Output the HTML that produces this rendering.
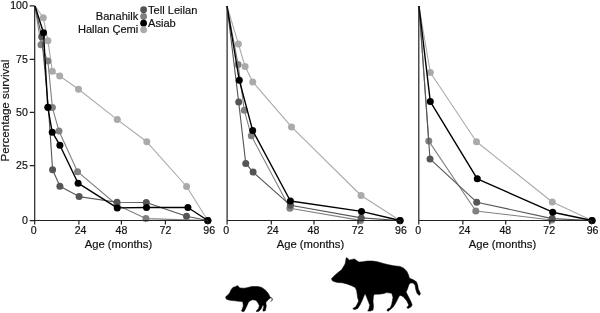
<!DOCTYPE html><html><head><meta charset="utf-8"><style>html,body{margin:0;padding:0;background:#fff;}svg{display:block;filter:grayscale(1);}text{font-family:"Liberation Sans", sans-serif;stroke:#111;stroke-width:0.18px;}</style></head><body>
<svg width="600" height="313" viewBox="0 0 600 313">
<rect width="600" height="313" fill="#fff"/>
<path d="M35.00 6.00 L43.30 17.80 L47.90 40.70 L52.30 71.20 L59.70 76.00 L78.50 89.30 L117.30 119.60 L146.80 141.80 L186.60 186.50 L207.80 220.50" stroke="#aaaaaa" stroke-width="1.1" fill="none" stroke-linejoin="round"/>
<g fill="#aaaaaa"><circle cx="43.30" cy="17.80" r="3.5"/><circle cx="47.90" cy="40.70" r="3.5"/><circle cx="52.30" cy="71.20" r="3.5"/><circle cx="59.70" cy="76.00" r="3.5"/><circle cx="78.50" cy="89.30" r="3.5"/><circle cx="117.30" cy="119.60" r="3.5"/><circle cx="146.80" cy="141.80" r="3.5"/><circle cx="186.60" cy="186.50" r="3.5"/><circle cx="207.80" cy="220.50" r="3.5"/></g>
<path d="M35.00 6.00 L41.00 44.80 L47.90 61.10 L52.40 107.60 L59.00 131.10 L77.55 171.70 L117.00 205.00 L145.90 218.60 L207.80 220.50" stroke="#808080" stroke-width="1.1" fill="none" stroke-linejoin="round"/>
<g fill="#808080"><circle cx="41.00" cy="44.80" r="3.5"/><circle cx="47.90" cy="61.10" r="3.5"/><circle cx="52.40" cy="107.60" r="3.5"/><circle cx="59.00" cy="131.10" r="3.5"/><circle cx="77.55" cy="171.70" r="3.5"/><circle cx="117.00" cy="205.00" r="3.5"/><circle cx="145.90" cy="218.60" r="3.5"/><circle cx="207.80" cy="220.50" r="3.5"/></g>
<path d="M35.00 6.00 L41.70 36.80 L48.40 107.40 L52.60 169.80 L59.90 186.20 L79.10 196.60 L117.00 202.30 L146.25 202.50 L186.50 216.25 L207.80 220.50" stroke="#555555" stroke-width="1.1" fill="none" stroke-linejoin="round"/>
<g fill="#555555"><circle cx="41.70" cy="36.80" r="3.5"/><circle cx="48.40" cy="107.40" r="3.5"/><circle cx="52.60" cy="169.80" r="3.5"/><circle cx="59.90" cy="186.20" r="3.5"/><circle cx="79.10" cy="196.60" r="3.5"/><circle cx="117.00" cy="202.30" r="3.5"/><circle cx="146.25" cy="202.50" r="3.5"/><circle cx="186.50" cy="216.25" r="3.5"/><circle cx="207.80" cy="220.50" r="3.5"/></g>
<path d="M35.00 6.00 L43.50 32.70 L47.80 107.30 L52.20 132.20 L59.90 145.20 L78.10 183.20 L117.20 207.90 L146.50 207.50 L187.90 207.50 L207.80 220.50" stroke="#000000" stroke-width="1.4" fill="none" stroke-linejoin="round"/>
<g fill="#000000"><circle cx="43.50" cy="32.70" r="3.5"/><circle cx="47.80" cy="107.30" r="3.5"/><circle cx="52.20" cy="132.20" r="3.5"/><circle cx="59.90" cy="145.20" r="3.5"/><circle cx="78.10" cy="183.20" r="3.5"/><circle cx="117.20" cy="207.90" r="3.5"/><circle cx="146.50" cy="207.50" r="3.5"/><circle cx="187.90" cy="207.50" r="3.5"/><circle cx="207.80" cy="220.50" r="3.5"/></g>
<path d="M227.00 6.00 L238.40 43.90 L245.10 66.60 L252.75 82.00 L291.50 126.90 L361.10 195.50 L400.00 220.50" stroke="#aaaaaa" stroke-width="1.1" fill="none" stroke-linejoin="round"/>
<g fill="#aaaaaa"><circle cx="238.40" cy="43.90" r="3.5"/><circle cx="245.10" cy="66.60" r="3.5"/><circle cx="252.75" cy="82.00" r="3.5"/><circle cx="291.50" cy="126.90" r="3.5"/><circle cx="361.10" cy="195.50" r="3.5"/><circle cx="400.00" cy="220.50" r="3.5"/></g>
<path d="M227.00 6.00 L238.10 64.40 L244.30 110.30 L251.30 135.80 L289.90 208.20 L360.60 220.40 L400.00 220.50" stroke="#808080" stroke-width="1.1" fill="none" stroke-linejoin="round"/>
<g fill="#808080"><circle cx="238.10" cy="64.40" r="3.5"/><circle cx="244.30" cy="110.30" r="3.5"/><circle cx="251.30" cy="135.80" r="3.5"/><circle cx="289.90" cy="208.20" r="3.5"/><circle cx="360.60" cy="220.40" r="3.5"/><circle cx="400.00" cy="220.50" r="3.5"/></g>
<path d="M227.00 6.00 L238.70 102.10 L245.75 163.40 L253.10 172.10 L290.50 205.30 L361.30 217.90 L400.00 220.50" stroke="#555555" stroke-width="1.1" fill="none" stroke-linejoin="round"/>
<g fill="#555555"><circle cx="238.70" cy="102.10" r="3.5"/><circle cx="245.75" cy="163.40" r="3.5"/><circle cx="253.10" cy="172.10" r="3.5"/><circle cx="290.50" cy="205.30" r="3.5"/><circle cx="361.30" cy="217.90" r="3.5"/><circle cx="400.00" cy="220.50" r="3.5"/></g>
<path d="M227.00 6.00 L239.30 80.30 L252.70 130.60 L290.40 201.00 L361.50 211.40 L400.00 220.50" stroke="#000000" stroke-width="1.4" fill="none" stroke-linejoin="round"/>
<g fill="#000000"><circle cx="239.30" cy="80.30" r="3.5"/><circle cx="252.70" cy="130.60" r="3.5"/><circle cx="290.40" cy="201.00" r="3.5"/><circle cx="361.50" cy="211.40" r="3.5"/><circle cx="400.00" cy="220.50" r="3.5"/></g>
<path d="M419.00 6.00 L430.30 72.50 L476.50 141.70 L552.30 202.00 L592.00 220.50" stroke="#aaaaaa" stroke-width="1.1" fill="none" stroke-linejoin="round"/>
<g fill="#aaaaaa"><circle cx="430.30" cy="72.50" r="3.5"/><circle cx="476.50" cy="141.70" r="3.5"/><circle cx="552.30" cy="202.00" r="3.5"/><circle cx="592.00" cy="220.50" r="3.5"/></g>
<path d="M419.00 6.00 L428.80 141.10 L475.80 211.00 L551.80 220.00 L592.00 220.50" stroke="#808080" stroke-width="1.1" fill="none" stroke-linejoin="round"/>
<g fill="#808080"><circle cx="428.80" cy="141.10" r="3.5"/><circle cx="475.80" cy="211.00" r="3.5"/><circle cx="551.80" cy="220.00" r="3.5"/><circle cx="592.00" cy="220.50" r="3.5"/></g>
<path d="M419.00 6.00 L430.00 158.90 L476.70 202.20 L552.20 218.60 L592.00 220.50" stroke="#555555" stroke-width="1.1" fill="none" stroke-linejoin="round"/>
<g fill="#555555"><circle cx="430.00" cy="158.90" r="3.5"/><circle cx="476.70" cy="202.20" r="3.5"/><circle cx="552.20" cy="218.60" r="3.5"/><circle cx="592.00" cy="220.50" r="3.5"/></g>
<path d="M419.00 6.00 L430.30 101.60 L477.30 178.80 L552.70 212.20 L592.00 220.50" stroke="#000000" stroke-width="1.4" fill="none" stroke-linejoin="round"/>
<g fill="#000000"><circle cx="430.30" cy="101.60" r="3.5"/><circle cx="477.30" cy="178.80" r="3.5"/><circle cx="552.70" cy="212.20" r="3.5"/><circle cx="592.00" cy="220.50" r="3.5"/></g>
<path d="M34.70 6.00V224.50M34.10 220.50H207.80" stroke="#222222" stroke-width="1.2" fill="none"/>
<path d="M78.90 220.50V224.50M121.40 220.50V224.50M165.40 220.50V224.50M207.80 220.50V224.50" stroke="#222222" stroke-width="1.2" fill="none"/>
<text x="33.75" y="234.2" font-size="10.6" text-anchor="middle" fill="#111">0</text>
<text x="80.60" y="234.2" font-size="10.6" text-anchor="middle" fill="#111">24</text>
<text x="121.40" y="234.2" font-size="10.6" text-anchor="middle" fill="#111">48</text>
<text x="165.40" y="234.2" font-size="10.6" text-anchor="middle" fill="#111">72</text>
<text x="209.20" y="234.2" font-size="10.6" text-anchor="middle" fill="#111">96</text>
<text x="84.70" y="248.0" font-size="11.25" fill="#111">Age (months)</text>
<path d="M227.10 6.00V224.50M226.50 220.50H400.10" stroke="#222222" stroke-width="1.2" fill="none"/>
<path d="M271.30 220.50V224.50M314.00 220.50V224.50M358.00 220.50V224.50M400.10 220.50V224.50" stroke="#222222" stroke-width="1.2" fill="none"/>
<text x="226.20" y="234.2" font-size="10.6" text-anchor="middle" fill="#111">0</text>
<text x="272.85" y="234.2" font-size="10.6" text-anchor="middle" fill="#111">24</text>
<text x="313.40" y="234.2" font-size="10.6" text-anchor="middle" fill="#111">48</text>
<text x="357.70" y="234.2" font-size="10.6" text-anchor="middle" fill="#111">72</text>
<text x="401.00" y="234.2" font-size="10.6" text-anchor="middle" fill="#111">96</text>
<text x="276.70" y="248.0" font-size="11.25" fill="#111">Age (months)</text>
<path d="M418.80 6.00V224.50M418.20 220.50H591.60" stroke="#222222" stroke-width="1.2" fill="none"/>
<path d="M462.85 220.50V224.50M505.70 220.50V224.50M549.80 220.50V224.50M591.60 220.50V224.50" stroke="#222222" stroke-width="1.2" fill="none"/>
<text x="418.10" y="234.2" font-size="10.6" text-anchor="middle" fill="#111">0</text>
<text x="464.60" y="234.2" font-size="10.6" text-anchor="middle" fill="#111">24</text>
<text x="505.30" y="234.2" font-size="10.6" text-anchor="middle" fill="#111">48</text>
<text x="549.25" y="234.2" font-size="10.6" text-anchor="middle" fill="#111">72</text>
<text x="592.60" y="234.2" font-size="10.6" text-anchor="middle" fill="#111">96</text>
<text x="468.70" y="248.0" font-size="11.25" fill="#111">Age (months)</text>
<path d="M29.70 220.60H34.70M29.70 165.60H34.70M29.70 112.45H34.70M29.70 59.45H34.70M29.70 5.90H34.70" stroke="#222222" stroke-width="1.2" fill="none"/>
<text x="27.9" y="223.80" font-size="10.6" text-anchor="end" fill="#111">0</text>
<text x="27.9" y="168.80" font-size="10.6" text-anchor="end" fill="#111">25</text>
<text x="27.9" y="115.65" font-size="10.6" text-anchor="end" fill="#111">50</text>
<text x="27.9" y="62.65" font-size="10.6" text-anchor="end" fill="#111">75</text>
<text x="27.9" y="9.10" font-size="10.6" text-anchor="end" fill="#111">100</text>
<text transform="translate(9.3,110.6) rotate(-90)" font-size="11.6" text-anchor="middle" fill="#111">Percentage survival</text>
<circle cx="143.6" cy="9.7" r="3.4" fill="#555555"/>
<circle cx="143.6" cy="16.5" r="3.4" fill="#808080"/>
<circle cx="143.6" cy="23.2" r="3.4" fill="#000000"/>
<circle cx="143.6" cy="29.8" r="3.4" fill="#aaaaaa"/>
<text x="148" y="14" font-size="11.1" fill="#111">Tell Leilan</text>
<text x="148" y="27.4" font-size="11.1" fill="#111">Asiab</text>
<text x="138.3" y="19.5" font-size="11.1" text-anchor="end" fill="#111">Banahilk</text>
<text x="138.3" y="32.6" font-size="11.1" text-anchor="end" fill="#111">Hallan Çemi</text>
<path d="M225.5 297.3 L226.4 296.1 L227.9 294.9 L229.9 292.4 L230.9 289.9 L232.9 287.4 L235.9 286.5 L237.3 285.6 L238.3 286.3 L239.8 287.9 L243.8 288.2 L246.0 287.9 L251.9 286.5 L257.9 286.5 L261.8 287.4 L265.8 290.4 L268.3 293.4 L269.8 296.4 L270.3 297.6 L269.6 298.5 L268.8 299.3 L266.8 301.3 L265.8 302.8 L266.3 305.8 L265.8 308.7 L265.3 310.7 L263.3 311.2 L262.8 310.2 L263.8 306.8 L263.3 304.8 L262.3 306.3 L260.9 309.2 L258.9 311.2 L256.4 311.7 L256.4 310.7 L258.4 308.7 L259.4 305.8 L257.9 302.8 L255.9 300.3 L252.9 299.8 L250.0 300.8 L248.2 302.8 L246.6 306.5 L244.3 311.2 L242.8 311.7 L241.3 310.7 L242.3 309.2 L243.3 305.8 L242.8 301.8 L238.8 301.3 L234.9 300.8 L229.9 300.3 L226.5 299.3Z" fill="#000" stroke="#000" stroke-width="0.5" stroke-linejoin="round"/>
<path d="M269.8 297.8 Q271.6 296.6 272.2 298.8 Q272.4 300.6 271.2 301.4" fill="none" stroke="#000" stroke-width="0.9" stroke-linecap="round"/>
<path d="M331.5 278.6 L332.1 278.0 L335.1 275.1 L338.6 272.1 L341.6 269.8 L343.4 266.8 L345.1 263.9 L345.7 260.9 L346.1 258.2 L346.9 257.6 L348.1 258.9 L349.4 260.1 L351.9 259.5 L354.4 258.9 L355.6 259.8 L358.8 262.0 L362.5 261.8 L367.5 261.0 L372.5 261.0 L377.5 261.8 L382.5 263.2 L387.5 264.5 L393.8 265.8 L400.0 266.4 L403.8 268.2 L406.9 271.4 L408.5 275.0 L409.5 278.2 L412.9 279.6 L416.4 281.7 L417.7 285.1 L418.4 289.2 L419.8 292.0 L420.5 294.0 L419.1 295.4 L417.0 293.3 L415.7 289.2 L415.0 285.1 L412.9 283.0 L410.2 283.0 L408.8 285.1 L407.4 289.2 L406.1 292.0 L408.1 296.1 L410.9 301.6 L412.2 305.0 L410.9 307.0 L408.1 308.4 L406.8 307.7 L408.8 305.0 L406.8 300.9 L403.3 296.8 L400.6 295.4 L399.2 296.1 L396.5 301.6 L393.7 306.4 L391.0 309.1 L388.2 311.2 L386.9 310.5 L387.5 309.1 L390.3 307.7 L391.7 304.3 L393.0 297.4 L391.7 293.3 L386.9 292.6 L383.0 293.7 L378.8 294.2 L374.6 294.2 L373.5 295.8 L373.0 301.1 L373.5 306.4 L373.0 310.1 L370.3 311.1 L367.7 311.1 L368.7 309.6 L369.8 305.3 L368.2 301.1 L366.1 295.8 L365.1 293.7 L364.5 294.8 L361.9 301.1 L359.8 305.3 L357.7 308.5 L355.0 309.6 L352.9 309.0 L353.4 308.0 L355.6 306.9 L357.1 304.3 L358.7 301.1 L357.7 297.9 L357.1 293.7 L356.6 290.6 L355.6 288.4 L355.2 287.5 L351.6 285.7 L346.9 283.9 L342.2 282.8 L337.4 282.4 L333.9 281.6 L332.1 280.4Z" fill="#000" stroke="#000" stroke-width="0.5" stroke-linejoin="round"/>
</svg></body></html>
